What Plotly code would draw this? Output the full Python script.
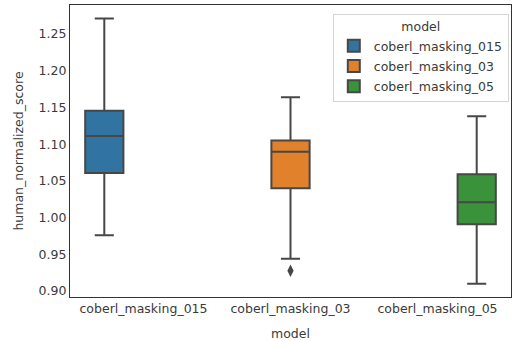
import plotly.graph_objects as go

categories = ["coberl_masking_015", "coberl_masking_03", "coberl_masking_05"]
lower = [0.976, 0.944, 0.910]
q1 = [1.0606, 1.0398, 0.991]
median = [1.111, 1.0897, 1.0207]
q3 = [1.1455, 1.1051, 1.0589]
upper = [1.271, 1.1638, 1.138]
outlier_cat = [1]
outlier_val = [0.9275]
colors = ["#3274a1", "#e1812c", "#3a923a"]
hue_offsets = [-0.2667, 0.0, 0.2667]
ytick_vals = [0.90, 0.95, 1.00, 1.05, 1.10, 1.15, 1.20, 1.25]

line_col = "#474747"
txt_col = "#3a3a3a"
fs = 12.5
fig = go.Figure()
for i, cat in enumerate(categories):
    fig.add_trace(go.Box(
        name=cat,
        legendgroup=cat,
        x=[i + hue_offsets[i]],
        lowerfence=[lower[i]], q1=[q1[i]], median=[median[i]],
        q3=[q3[i]], upperfence=[upper[i]],
        width=0.26, whiskerwidth=0.5,
        fillcolor=colors[i],
        line=dict(color=line_col, width=2),
        boxpoints=False,
        showlegend=True,
    ))

fig.add_trace(go.Scatter(
    x=[c + hue_offsets[c] for c in outlier_cat], y=outlier_val,
    mode="markers",
    marker=dict(symbol="diamond-tall", size=9, color=line_col),
    showlegend=False, hoverinfo="skip",
))

fig.update_layout(
    width=512, height=341,
    margin=dict(l=70, r=1, t=5, b=44, autoexpand=False),
    paper_bgcolor="white", plot_bgcolor="white",
    font=dict(family="DejaVu Sans", size=fs, color=txt_col),
    legend=dict(
        title=dict(text="model", side="top center", font=dict(size=fs, color=txt_col)),
        x=0.995, xanchor="right", y=0.97, yanchor="top",
        bordercolor="#d4d4d4", borderwidth=1, bgcolor="rgba(255,255,255,0.8)",
        font=dict(size=fs, color=txt_col), tracegroupgap=1,
    ),
    xaxis=dict(
        range=[-0.5, 2.5], tickvals=[0, 1, 2], ticktext=categories,
        showgrid=False, zeroline=False, showline=True, mirror=True,
        linecolor="#333333", linewidth=1.2, ticks="", automargin=False,
        tickfont=dict(size=fs, color=txt_col),
        title=dict(text="model", standoff=15, font=dict(size=fs, color=txt_col)),
    ),
    yaxis=dict(
        range=[0.8918, 1.2895], tickvals=ytick_vals,
        tickformat=".2f",
        showgrid=False, zeroline=False, showline=True, mirror=True,
        linecolor="#333333", linewidth=1.2, ticks="", automargin=False,
        tickfont=dict(size=fs, color=txt_col),
        title=dict(text="human_normalized_score", standoff=12, font=dict(size=fs, color=txt_col)),
    ),
    showlegend=True,
)

fig.write_html("out.html", config={"displayModeBar": False},
               post_script="document.body.style.margin='0';")
